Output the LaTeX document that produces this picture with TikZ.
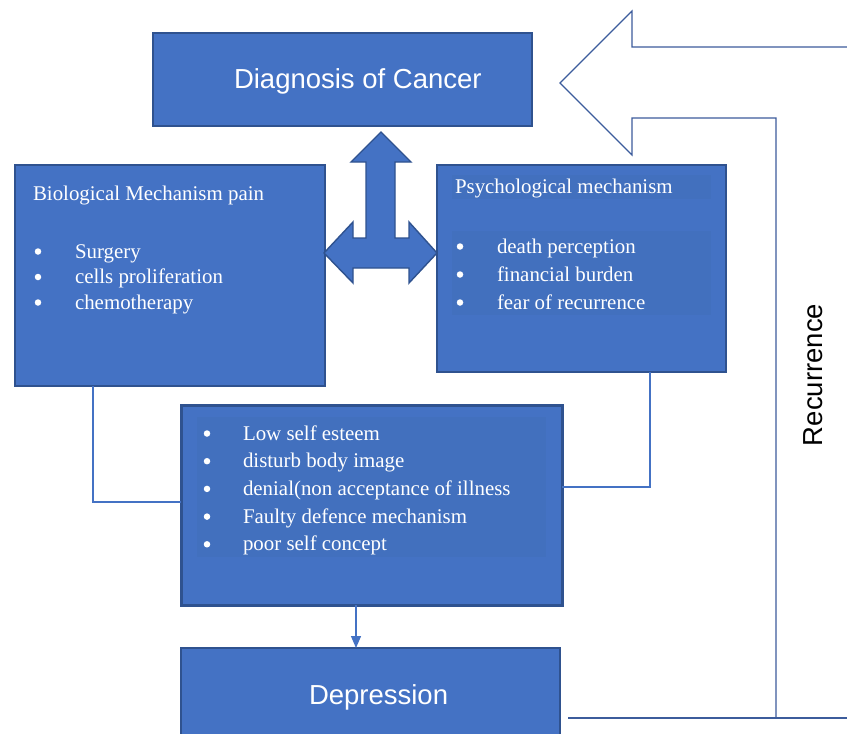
\documentclass[tikz,border=0pt]{standalone}
\usepackage{fontspec}
\setmainfont{Liberation Serif}
\newfontfamily\arialf{Liberation Sans}
\usetikzlibrary{arrows.meta}
\definecolor{boxblue}{HTML}{4472C4}
\definecolor{boxedge}{HTML}{2F528F}
\definecolor{innerblue}{HTML}{4270BE}
\definecolor{outlinecol}{HTML}{3C5C9C}
\begin{document}
\begin{tikzpicture}[x=1pt,y=-1pt,
  box/.style={draw=boxedge,fill=boxblue,line width=1.4pt,inner sep=0pt,outer sep=0pt},
  innerbg/.style={fill=innerblue,draw=none,inner sep=0pt,outer sep=0pt},
  txt/.style={text=white,inner sep=0pt,outer sep=0pt,anchor=base west},
  serif/.style={font=\fontsize{20.9}{25}\selectfont},
  sans/.style={font=\arialf\fontsize{27.5}{33}\selectfont},
  bul/.style={circle,fill=white,draw=none,inner sep=0pt,minimum size=6.5pt},
  conn/.style={draw=boxblue,line width=2pt},
  arr/.style={draw=boxblue,line width=1.3pt,-{Triangle[length=12pt,width=10pt]}},
  outl/.style={draw=outlinecol,line width=1.2pt,line join=miter}]
\useasboundingbox (0,0) rectangle (847,734);
\clip (0,0) rectangle (847,734);
\fill[white] (0,0) rectangle (847,734);

% boxes
\node[box,minimum width=379pt,minimum height=93pt] (diag) at (342.5,79.5) {};
\node[box,minimum width=310pt,minimum height=221pt] (bio) at (170,275.5) {};
\node[box,minimum width=289pt,minimum height=207pt] (psy) at (581.5,268.5) {};
\node[box,line width=3pt,minimum width=381pt,minimum height=200pt] (mid) at (371.5,505) {};
\node[box,minimum width=379pt,minimum height=112pt] (dep) at (370.5,704) {};

% inner text backgrounds
\node[innerbg,minimum width=259pt,minimum height=24pt] (psybg1) at (581.5,187) {};
\node[innerbg,minimum width=259pt,minimum height=84pt] (psybg2) at (581.5,273) {};
\node[innerbg,minimum width=349pt,minimum height=140pt] (midbg) at (371.5,487) {};

% four-way arrow
\filldraw[fill=boxblue,draw=boxedge,line width=1.4pt,line join=miter]
  (381,132) -- (411,162) -- (395,162) -- (395,238) -- (409,238) -- (409,222)
  -- (437,253) -- (409,283) -- (409,268) -- (353,268) -- (353,283) -- (324,253)
  -- (353,222) -- (353,238) -- (366,238) -- (366,162) -- (351,162) -- cycle;

% titles
\node[txt,sans] (diagtxt) at (234,88) {Diagnosis of Cancer};
\node[txt,sans] (deptxt) at (309,704) {Depression};
\node[text=black,inner sep=0pt,anchor=base,rotate=90,font=\arialf\fontsize{27.5}{33}\selectfont] (rec) at (822,375) {Recurrence};

\node[txt,serif] (biot) at (33,200) {Biological Mechanism pain};
\node[txt,serif] (psyt) at (455,193) {Psychological mechanism};

% bullet lists
\foreach \t [count=\i] in {Surgery,cells proliferation,chemotherapy}{
  \pgfmathsetmacro{\yy}{258+25.5*(\i-1)}
  \node[bul] (biob\i) at (38,\yy-6.5) {};
  \node[txt,serif] (biol\i) at (75,\yy) {\t};
}
\foreach \t [count=\i] in {death perception,financial burden,fear of recurrence}{
  \pgfmathsetmacro{\yy}{253+28*(\i-1)}
  \node[bul] (psyb\i) at (460,\yy-6.5) {};
  \node[txt,serif] (psyl\i) at (497,\yy) {\t};
}
\foreach \t [count=\i] in {Low self esteem,disturb body image,denial(non acceptance of illness,Faulty defence mechanism,poor self concept}{
  \pgfmathsetmacro{\yy}{440+27.7*(\i-1)}
  \node[bul] (midb\i) at (207,\yy-6.5) {};
  \node[txt,serif] (midl\i) at (243,\yy) {\t};
}

% connectors
\draw[conn] ([xshift=-77pt]bio.south) |- ([yshift=3pt]mid.west);
\draw[conn] ([xshift=68.5pt]psy.south) |- ([yshift=18pt]mid.east);
\draw[arr] ([xshift=-15.5pt]mid.south) -- ([xshift=-15.5pt]mid.south |- dep.north);

% recurrence big arrow outline
\coordinate (recend) at (847,47);
\coordinate (corner) at (776,718);
\draw[outl] (recend) -- (632,47) -- (632,11) -- (560,83) -- (632,155) -- (632,118) -- (776,118) -- (corner);
\draw[outl] ([xshift=8pt,yshift=-14pt]dep.east) -- (847,718);
\end{tikzpicture}
\end{document}
